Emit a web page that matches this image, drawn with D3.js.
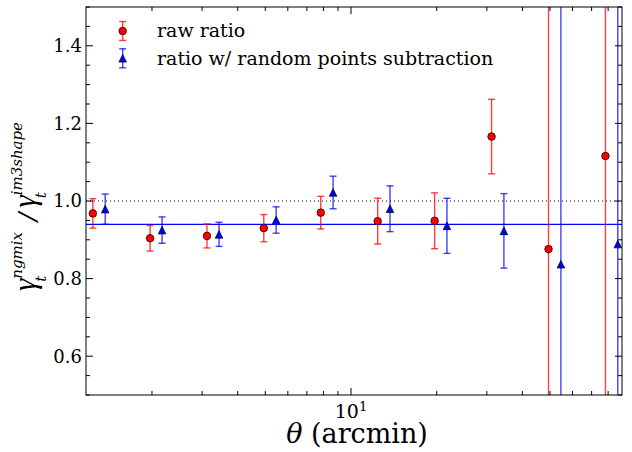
<!DOCTYPE html>
<html>
<head>
<meta charset="utf-8">
<script src="https://cdn.jsdelivr.net/npm/d3@7"></script>
<style>
  body { margin: 0; background: #fff; }
  text { font-family: "DejaVu Serif", serif; }
  text.greek { font-family: "Liberation Serif", serif; }
</style>
</head>
<body>
<div id="chart"></div>
<script>
// values
const thetaRaw = [1.24, 1.97, 3.12, 4.94, 7.83, 12.41, 19.67, 31.17, 49.4, 78.3]
const ratioRaw = [0.968, 0.904, 0.910, 0.930, 0.970, 0.948, 0.949, 1.166, 0.876, 1.116]
const sigmaRaw = [0.038, 0.033, 0.031, 0.035, 0.042, 0.059, 0.072, 0.096, 2.5, 2.1]

const thetaRand = [1.37, 2.17, 3.44, 5.46, 8.65, 13.71, 21.73, 34.44, 54.6, 86.5]
const ratioRand = [0.979, 0.925, 0.914, 0.951, 1.022, 0.980, 0.936, 0.923, 0.837, 0.889]
const sigmaRand = [0.039, 0.034, 0.031, 0.034, 0.042, 0.059, 0.071, 0.096, 2.6, 2.2]

const meanLine = 0.94
const refLine = 1.0
const yTickLabels = [0.6, 0.8, 1.0, 1.2, 1.4]
const yMinorTicks = d3.range(0.5, 1.5001, 0.05)
const xMinorTicks = [2, 3, 4, 5, 6, 7, 8, 9, 20, 30, 40, 50, 60, 70, 80]
const legendLabels = ['raw ratio', 'ratio w/ random points subtraction']

// canvas
const width = 632,
  height = 452,
  plotLeft = 86,
  plotRight = 622,
  plotTop = 7,
  plotBottom = 395

const red = '#ff0000',
  blue = '#0000ff'

let svg = d3.select('#chart')
  .append('svg')
  .attr('width', width)
  .attr('height', height)

const x = d3.scaleLog()
  .domain([1.173, 89.5])
  .range([plotLeft, plotRight])

const y = d3.scaleLinear()
  .domain([0.5, 1.5])
  .range([plotBottom, plotTop])

svg.append('clipPath')
  .attr('id', 'plot')
  .append('rect')
  .attr('x', plotLeft)
  .attr('y', plotTop)
  .attr('width', plotRight - plotLeft)
  .attr('height', plotBottom - plotTop)

let plot = svg.append('g').attr('clip-path', 'url(#plot)')

// reference lines
plot.append('line')
  .attr('x1', plotLeft).attr('x2', plotRight)
  .attr('y1', y(refLine)).attr('y2', y(refLine))
  .attr('stroke', '#000')
  .attr('stroke-width', 1)
  .attr('stroke-dasharray', '1,3')

plot.append('line')
  .attr('x1', plotLeft).attr('x2', plotRight)
  .attr('y1', y(meanLine)).attr('y2', y(meanLine))
  .attr('stroke', blue)
  .attr('stroke-width', 1.2)

const triangle = (s) => `M0,${-s}L${s},${s}L${-s},${s}Z`

let drawSeries = (xs, ys, errs, color, marker) => {
  const pts = xs.map((d, i) => ({ t: d, v: ys[i], e: errs[i] }))
  let bars = plot.append('g')
    .attr('stroke', color)
    .attr('stroke-opacity', 0.75)
    .attr('stroke-width', 1.4)
  bars.selectAll('line.bar')
    .data(pts)
    .enter()
    .append('line')
    .attr('x1', d => x(d.t)).attr('x2', d => x(d.t))
    .attr('y1', d => y(d.v - d.e)).attr('y2', d => y(d.v + d.e))
  ;[-1, 1].forEach(sign => {
    bars.selectAll('line.cap' + sign)
      .data(pts)
      .enter()
      .append('line')
      .attr('x1', d => x(d.t) - 3.5).attr('x2', d => x(d.t) + 3.5)
      .attr('y1', d => y(d.v + sign * d.e)).attr('y2', d => y(d.v + sign * d.e))
  })
  let marks = plot.append('g')
  if (marker === 'circle') {
    marks.selectAll('circle')
      .data(pts)
      .enter()
      .append('circle')
      .attr('cx', d => x(d.t))
      .attr('cy', d => y(d.v))
      .attr('r', 3.8)
      .attr('fill', color)
      .attr('stroke', '#000')
      .attr('stroke-width', 0.7)
  } else {
    marks.selectAll('path')
      .data(pts)
      .enter()
      .append('path')
      .attr('d', triangle(3.8))
      .attr('transform', d => `translate(${x(d.t)},${y(d.v)})`)
      .attr('fill', color)
      .attr('stroke', '#000')
      .attr('stroke-width', 0.7)
  }
}

drawSeries(thetaRaw, ratioRaw, sigmaRaw, red, 'circle')
drawSeries(thetaRand, ratioRand, sigmaRand, blue, 'triangle')

// frame
svg.append('rect')
  .attr('x', plotLeft).attr('y', plotTop)
  .attr('width', plotRight - plotLeft).attr('height', plotBottom - plotTop)
  .attr('fill', 'none')
  .attr('stroke', '#000')
  .attr('stroke-width', 1)

// ticks, pointing inward on all four sides
let ticks = svg.append('g').attr('stroke', '#000').attr('stroke-width', 1)

const isMajorY = (v) => yTickLabels.some(t => Math.abs(t - v) < 1e-6)
yMinorTicks.forEach(v => {
  const len = isMajorY(v) ? 7 : 4
  ticks.append('line')
    .attr('x1', plotLeft).attr('x2', plotLeft + len)
    .attr('y1', y(v)).attr('y2', y(v))
  ticks.append('line')
    .attr('x1', plotRight).attr('x2', plotRight - len)
    .attr('y1', y(v)).attr('y2', y(v))
})

const xAll = [{ v: 10, len: 7 }].concat(xMinorTicks.map(v => ({ v: v, len: 4 })))
xAll.forEach(d => {
  ticks.append('line')
    .attr('x1', x(d.v)).attr('x2', x(d.v))
    .attr('y1', plotBottom).attr('y2', plotBottom - d.len)
  ticks.append('line')
    .attr('x1', x(d.v)).attr('x2', x(d.v))
    .attr('y1', plotTop).attr('y2', plotTop + d.len)
})

// tick labels
svg.append('g')
  .selectAll('text')
  .data(yTickLabels)
  .enter()
  .append('text')
  .attr('x', plotLeft - 4)
  .attr('y', d => y(d))
  .attr('dy', '0.36em')
  .attr('text-anchor', 'end')
  .attr('font-size', 18)
  .text(d => d.toFixed(1))

let xlab = svg.append('text')
  .attr('x', x(10))
  .attr('y', 418)
  .attr('text-anchor', 'middle')
  .attr('font-size', 19)
xlab.append('tspan').text('10')
xlab.append('tspan').attr('font-size', 13).attr('dy', -7).text('1')

// axis titles
let xt = svg.append('text')
  .attr('x', 357)
  .attr('y', 443)
  .attr('text-anchor', 'middle')
  .attr('font-size', 27)
xt.append('tspan').attr('font-style', 'italic').text('θ')
xt.append('tspan').text(' (arcmin)')

// y title built from pieces so sub- and superscripts stack
let yt = svg.append('g')
let cursor = 0
let piece = (txt, size, dy, advance, shift = 0, cls = null) => {
  let t = yt.append('text')
    .attr('class', cls)
    .attr('x', cursor + shift)
    .attr('y', dy)
    .attr('font-size', size)
    .attr('font-style', 'italic')
    .text(txt)
  const w = t.node().getComputedTextLength()
  if (advance) cursor += w
  return w
}
let gammaTerm = (sup) => {
  piece('γ', 31, 1, true, 0, 'greek')
  const w1 = piece('t', 15, 12, false, -3)
  const w2 = piece(sup, 15, -12, false)
  cursor += Math.max(w1 - 3, w2) + 3
}
gammaTerm('ngmix')
cursor += 8
piece('/', 25, 2, true)
cursor += 5
gammaTerm('im3shape')
yt.attr('transform', `translate(34,${205 + cursor / 2}) rotate(-90)`)

// legend
const legendY = [31, 58.3]
const legendColors = [red, blue]
legendLabels.forEach((lab, i) => {
  let g = svg.append('g').attr('transform', `translate(122.7,${legendY[i]})`)
  g.append('g')
    .attr('stroke', legendColors[i])
    .attr('stroke-opacity', 0.75)
    .attr('stroke-width', 1.4)
    .call(s => {
      s.append('line').attr('x1', 0).attr('x2', 0).attr('y1', -9.5).attr('y2', 9.5)
      s.append('line').attr('x1', -3.5).attr('x2', 3.5).attr('y1', -9.5).attr('y2', -9.5)
      s.append('line').attr('x1', -3.5).attr('x2', 3.5).attr('y1', 9.5).attr('y2', 9.5)
    })
  if (i === 0) {
    g.append('circle').attr('r', 3.8).attr('fill', red)
      .attr('stroke', '#000').attr('stroke-width', 0.7)
  } else {
    g.append('path').attr('d', triangle(3.8)).attr('fill', blue)
      .attr('stroke', '#000').attr('stroke-width', 0.7)
  }
  svg.append('text')
    .attr('x', 157)
    .attr('y', legendY[i])
    .attr('dy', '0.33em')
    .attr('font-size', 19)
    .text(lab)
})
</script>
</body>
</html>
